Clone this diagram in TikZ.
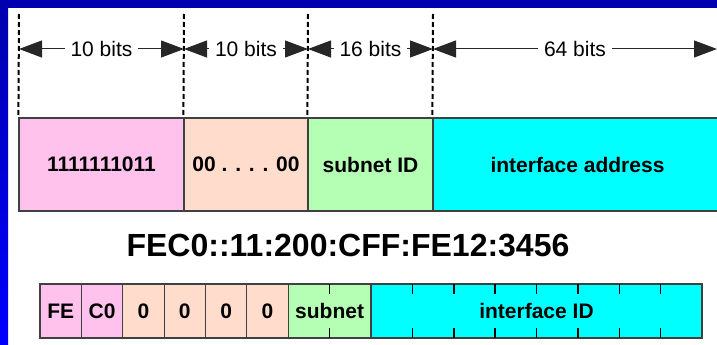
\documentclass[tikz,border=0pt]{standalone}
\usepackage{fontspec}
\setmainfont{Liberation Sans}
\usetikzlibrary{arrows.meta}

\definecolor{framedark}{RGB}{0,0,176}
\definecolor{framelight}{RGB}{0,0,255}
\definecolor{prefixpink}{RGB}{255,194,236}
\definecolor{zeropeach}{RGB}{255,220,204}
\definecolor{subnetgreen}{RGB}{180,255,180}
\definecolor{ifacecyan}{RGB}{0,255,255}

\tikzset{
  field/.style={draw=black!75, line width=1.2pt, inner sep=0pt,
    minimum height=93pt, font=\fontsize{21}{25}\selectfont\bfseries},
  cell/.style={draw=black!75, line width=1.2pt, inner sep=0pt,
    minimum height=54pt, font=\fontsize{21}{25}\selectfont\bfseries},
  bound/.style={line width=2pt, dash pattern=on 5pt off 3pt},
  span/.style={{Triangle[length=23pt, width=17pt]}-{Triangle[length=23pt, width=17pt]},
    line width=1pt, draw=black!85},
  bits/.style={fill=white, inner xsep=6pt, font=\fontsize{21}{25}\selectfont},
  tick/.style={line width=1.5pt}
}

\begin{document}
\begin{tikzpicture}[x=1pt, y=-1pt]
  \useasboundingbox (0, 0) rectangle (717, 345);

  %% frame
  \fill[framedark] (0, 0) rectangle (717, 8);
  \shade[top color=framedark, bottom color=framelight] (0, 8) rectangle (8, 345);

  %% site-local address layout
  \node[field, fill=prefixpink, minimum width=165pt] (prefix) at (101.5, 164.5){
    1111111011
  };

  \node[field, fill=zeropeach, minimum width=124pt] (zeros) at (246, 164.5){
    00 . . . . 00
  };

  \node[field, fill=subnetgreen, minimum width=125pt] (subnet) at (370.5, 164.5){
    subnet ID
  };

  \node[field, fill=ifacecyan, minimum width=289pt] (iface) at (577.5, 164.5){
    interface address
  };

  \coordinate (d0) at (19, 14);
  \coordinate (d1) at (184, 14);
  \coordinate (d2) at (308, 14);
  \coordinate (d3) at (433, 14);

  \coordinate (a0) at (19, 49);
  \coordinate (a1) at (184, 49);
  \coordinate (a2) at (308, 49);
  \coordinate (a3) at (433, 49);
  \coordinate (a4) at (717, 49);

  \draw[bound] (d0) -- (prefix.north west);
  \draw[bound] (d1) -- (zeros.north west);
  \draw[bound] (d2) -- (subnet.north west);
  \draw[bound] (d3) -- (iface.north west);

  \draw[span] (a0) -- node[bits]{10 bits} (a1);
  \draw[span] (a1) -- node[bits]{10 bits} (a2);
  \draw[span] (a2) -- node[bits]{16 bits} (a3);
  \draw[span] (a3) -- node[bits]{64 bits} (a4);

  %% example address
  \node[font=\fontsize{32}{36}\selectfont\bfseries] (addr) at (348, 246){
    FEC0::11:200:CFF:FE12:3456
  };

  \node[cell, fill=prefixpink, minimum width=41.375pt] (fe) at (60.69, 311){FE};
  \node[cell, fill=prefixpink, minimum width=41.375pt] (c0) at (102.06, 311){C0};
  \node[cell, fill=zeropeach, minimum width=41.375pt] (z1) at (143.44, 311){0};
  \node[cell, fill=zeropeach, minimum width=41.375pt] (z2) at (184.81, 311){0};
  \node[cell, fill=zeropeach, minimum width=41.375pt] (z3) at (226.19, 311){0};
  \node[cell, fill=zeropeach, minimum width=41.375pt] (z4) at (267.56, 311){0};
  \node[cell, fill=subnetgreen, minimum width=82.75pt] (sn) at (329.625, 311){subnet};
  \node[cell, fill=ifacecyan, minimum width=331pt] (iid) at (536.5, 311){interface ID};

  \draw[tick] (329.625, 284) -- ++(0, 10) (329.625, 338) -- ++(0, -10);
  \draw[tick] (412.375, 284) -- ++(0, 10) (412.375, 338) -- ++(0, -10);
  \draw[tick] (453.75, 284) -- ++(0, 10) (453.75, 338) -- ++(0, -10);
  \draw[tick] (495.125, 284) -- ++(0, 10) (495.125, 338) -- ++(0, -10);
  \draw[tick] (536.5, 284) -- ++(0, 10) (536.5, 338) -- ++(0, -10);
  \draw[tick] (577.875, 284) -- ++(0, 10) (577.875, 338) -- ++(0, -10);
  \draw[tick] (619.25, 284) -- ++(0, 10) (619.25, 338) -- ++(0, -10);
  \draw[tick] (660.625, 284) -- ++(0, 10) (660.625, 338) -- ++(0, -10);
\end{tikzpicture}
\end{document}
